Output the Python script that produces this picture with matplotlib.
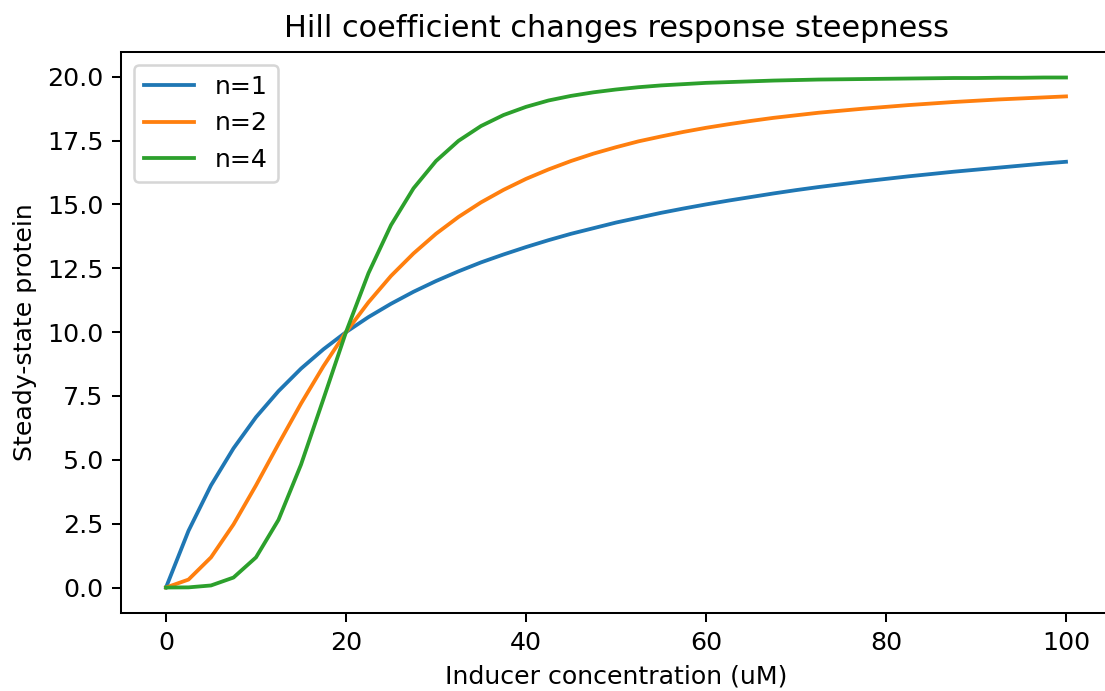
import matplotlib
matplotlib.use("Agg")
import matplotlib.pyplot as plt

# inducer concentration (uM)
inducer = [0, 2.5, 5, 7.5, 10, 12.5, 15, 17.5, 20, 22.5, 25, 27.5, 30, 32.5, 35,
           37.5, 40, 42.5, 45, 47.5, 50, 52.5, 55, 57.5, 60, 62.5, 65, 67.5, 70,
           72.5, 75, 77.5, 80, 82.5, 85, 87.5, 90, 92.5, 95, 97.5, 100]

# steady-state protein
protein_n1 = [0.0, 2.22, 4.0, 5.45, 6.67, 7.69, 8.57, 9.33, 10.0, 10.59, 11.11,
              11.58, 12.0, 12.38, 12.73, 13.04, 13.33, 13.6, 13.85, 14.07, 14.29,
              14.48, 14.67, 14.84, 15.0, 15.15, 15.29, 15.43, 15.56, 15.68, 15.79,
              15.9, 16.0, 16.1, 16.19, 16.28, 16.36, 16.44, 16.52, 16.6, 16.67]
protein_n2 = [0.0, 0.31, 1.18, 2.47, 4.0, 5.62, 7.2, 8.67, 10.0, 11.17, 12.2,
              13.08, 13.85, 14.51, 15.08, 15.57, 16.0, 16.37, 16.7, 16.99, 17.24,
              17.47, 17.66, 17.84, 18.0, 18.14, 18.27, 18.39, 18.49, 18.59, 18.67,
              18.75, 18.82, 18.89, 18.95, 19.01, 19.06, 19.11, 19.15, 19.19, 19.23]
protein_n4 = [0.0, 0.005, 0.08, 0.39, 1.18, 2.65, 4.81, 7.39, 10.0, 12.31, 14.19,
              15.63, 16.7, 17.49, 18.07, 18.5, 18.82, 19.07, 19.25, 19.39, 19.5,
              19.59, 19.66, 19.71, 19.76, 19.79, 19.82, 19.85, 19.87, 19.89, 19.9,
              19.91, 19.92, 19.93, 19.94, 19.95, 19.95, 19.96, 19.96, 19.97, 19.97]

labels = ["n=1", "n=2", "n=4"]

DPI = 182
fig = plt.figure(figsize=(1105 / DPI, 691 / DPI), dpi=DPI)
ax = fig.add_axes([121 / 1105, 78 / 691, 990 / 1105, 561 / 691])

for vals, lab in zip([protein_n1, protein_n2, protein_n4], labels):
    ax.plot(inducer, vals, label=lab)

ax.set_title("Hill coefficient changes response steepness")
ax.set_xlabel("Inducer concentration (uM)")
ax.set_ylabel("Steady-state protein")
ax.legend(loc="upper left")

fig.savefig("out.png", dpi=DPI)
